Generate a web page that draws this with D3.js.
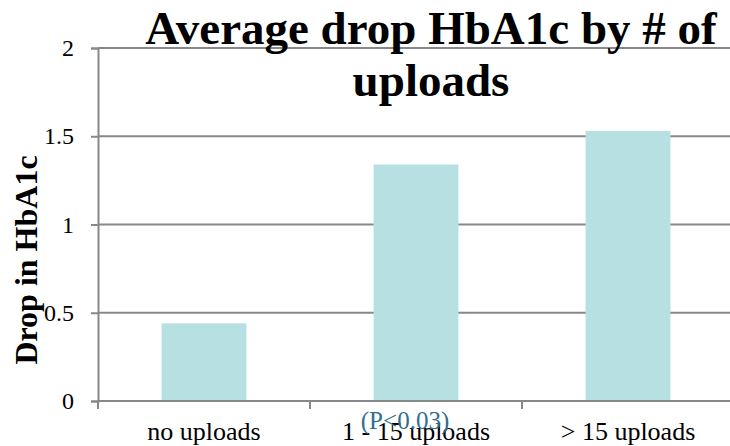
<!DOCTYPE html>
<html lang="en">
<head>
    <meta charset="UTF-8">
    <script src="https://d3js.org/d3.v7.min.js"></script>
    <title>Average drop HbA1c</title>
    <style>
        body { margin: 0; background: white; }
    </style>
</head>
<body>
    <div id="chart"></div>
    <script>
        // data
        const categories = ["no uploads", "1 - 15 uploads", "> 15 uploads"]
        const drops = [0.44, 1.34, 1.53]
        const yTicks = [0, 0.5, 1, 1.5, 2]
        const titleLines = ["Average drop HbA1c by # of", "uploads"]
        const yLabel = "Drop in HbA1c"
        const note = "(P<0.03)"

        const width = 730, height = 446
        const plot = { left: 98, right: 734, top: 48, bottom: 401 }
        const serif = "Liberation Serif, Times New Roman, serif"

        const svg = d3.select("#chart").append("svg")
            .attr("width", width)
            .attr("height", height)
            .attr("font-family", serif)
            .style("display", "block")

        const x = d3.scaleBand()
            .domain(categories)
            .range([plot.left, plot.right])
            .paddingInner(0.6)
            .paddingOuter(0.3)

        const y = d3.scaleLinear()
            .domain([0, 2])
            .range([plot.bottom, plot.top])

        // grid lines
        svg.append("g")
            .selectAll("line")
            .data(yTicks.filter(d => d > 0))
            .enter()
            .append("line")
            .attr("x1", plot.left)
            .attr("x2", width)
            .attr("y1", d => y(d))
            .attr("y2", d => y(d))
            .attr("stroke", "#888")
            .attr("stroke-width", 2)

        // bars
        svg.append("g")
            .selectAll("rect")
            .data(drops)
            .enter()
            .append("rect")
            .attr("x", (d, i) => x(categories[i]))
            .attr("width", x.bandwidth())
            .attr("y", d => y(d))
            .attr("height", d => y(0) - y(d))
            .attr("fill", "#b7e0e3")

        // y axis
        const yAxis = svg.append("g")
            .attr("transform", `translate(${plot.left},0)`)
            .call(d3.axisLeft(y).tickValues(yTicks).tickSize(7).tickPadding(17).tickFormat(d3.format("")))
        yAxis.attr("font-family", serif)
        yAxis.select(".domain").attr("stroke", "#888").attr("stroke-width", 2)
        yAxis.selectAll(".tick line").attr("stroke", "#888").attr("stroke-width", 2)
        yAxis.selectAll(".tick text")
            .attr("font-family", serif)
            .attr("font-size", 24)
            .attr("fill", "black")

        // x axis: ticks sit on the band edges
        const edges = categories.map(c => x(c) - x.step() * x.paddingOuter())
        const xAxis = svg.append("g")
        xAxis.append("line")
            .attr("x1", plot.left).attr("x2", width)
            .attr("y1", plot.bottom).attr("y2", plot.bottom)
            .attr("stroke", "#888").attr("stroke-width", 2)
        xAxis.selectAll(".edge")
            .data(edges)
            .enter()
            .append("line")
            .attr("x1", d => d).attr("x2", d => d)
            .attr("y1", plot.bottom).attr("y2", plot.bottom + 8)
            .attr("stroke", "#888").attr("stroke-width", 2)
        xAxis.selectAll(".lab")
            .data(categories)
            .enter()
            .append("text")
            .attr("x", d => x(d) + x.bandwidth() / 2)
            .attr("y", 440)
            .attr("text-anchor", "middle")
            .attr("font-family", serif)
            .attr("font-size", 26)
            .text(d => d)

        // p value note, drawn over the middle label as in the source
        svg.append("text")
            .attr("x", x(categories[1]) + x.bandwidth() / 2 - 11)
            .attr("y", 429)
            .attr("text-anchor", "middle")
            .attr("font-family", serif)
            .attr("font-size", 25)
            .attr("fill", "#31708f")
            .text(note)

        // title
        svg.append("g")
            .selectAll("text")
            .data(titleLines)
            .enter()
            .append("text")
            .attr("x", 431)
            .attr("y", (d, i) => 44 + i * 52)
            .attr("text-anchor", "middle")
            .attr("font-family", serif)
            .attr("font-size", 47)
            .attr("font-weight", "bold")
            .text(d => d)

        // y label
        svg.append("text")
            .attr("transform", "translate(37,260) rotate(-90)")
            .attr("text-anchor", "middle")
            .attr("font-family", serif)
            .attr("font-size", 32)
            .attr("font-weight", "bold")
            .text(yLabel)
    </script>
</body>
</html>
